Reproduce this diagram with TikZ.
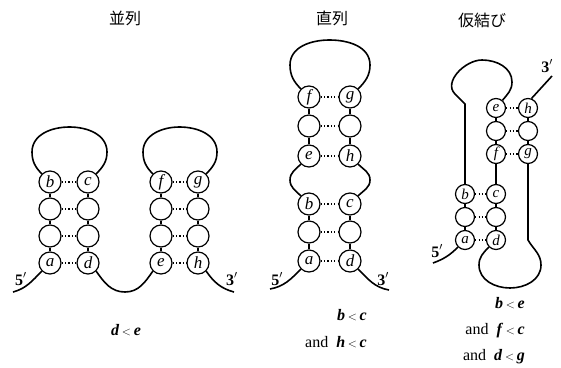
\documentclass[tikz,border=0pt]{standalone}
\usepackage{fontspec}
\setmainfont{Liberation Serif}
\newfontfamily\cjk{Noto Sans CJK JP}
\newcommand\lessrel{\,{\fontsize{13}{13}\selectfont$<$}\,}
\newcommand\rl[1]{\textbf{\textit{#1}}}
\begin{document}
\begin{tikzpicture}[x=1pt,y=1pt,
  base/.style={circle,draw,line width=1.2pt,inner sep=0pt,minimum size=22pt,
    font=\fontsize{17}{17}\selectfont\itshape},
  small/.style={base,minimum size=19pt,font=\fontsize{15}{15}\selectfont\itshape},
  strand/.style={line width=1.6pt},
  link/.style={line width=1.2pt},
  pair/.style={line width=1.2pt,dash pattern=on 1.2pt off 2.2pt},
  endlbl/.style={font=\fontsize{16}{16}\selectfont\bfseries,inner sep=0pt},
  title/.style={font=\fontsize{16}{16}\selectfont\cjk,inner sep=0pt},
  rel/.style={font=\fontsize{16}{16}\selectfont,inner sep=0pt,anchor=base east}]
\useasboundingbox (0,0) rectangle (561,-367);

% ---------- titles ----------
\node[title] (t1) at (125,-18) {並列};
\node[title] (t2) at (332,-18) {直列};
\node[title] (t3) at (482,-20) {仮結び};

% ---------- parallel: two separate hairpins ----------
\node[base] (pb) at (50,-182) {b};  \node[base] (pc) at (88,-182) {c};
\node[base] (p2l) at (50,-209) {};  \node[base] (p2r) at (88,-209) {};
\node[base] (p3l) at (50,-236) {};  \node[base] (p3r) at (88,-236) {};
\node[base] (pa) at (50,-263) {a};  \node[base] (pd) at (88,-263) {d};

\node[base] (pf) at (161,-182) {f}; \node[base] (pg) at (198,-182) {g};
\node[base] (q2l) at (161,-209) {}; \node[base] (q2r) at (198,-209) {};
\node[base] (q3l) at (161,-236) {}; \node[base] (q3r) at (198,-236) {};
\node[base] (pe) at (161,-263) {e}; \node[base] (ph) at (198,-263) {h};

\foreach \u/\v in {pb/p2l,p2l/p3l,p3l/pa,pc/p2r,p2r/p3r,p3r/pd,
                   pf/q2l,q2l/q3l,q3l/pe,pg/q2r,q2r/q3r,q3r/ph}
  \draw[link] (\u.south) -- (\v.north);
\foreach \u/\v in {pb/pc,p2l/p2r,p3l/p3r,pa/pd,pf/pg,q2l/q2r,q3l/q3r,pe/ph}
  \draw[pair] (\u.east) -- (\v.west);

\draw[strand] (pb.135) to[out=135,in=-90] (32,-152) to[out=90,in=180] (69.5,-127)
  to[out=0,in=90] (107,-152) to[out=-90,in=45] (pc.45);
\draw[strand] (pf.135) to[out=135,in=-90] (143,-152) to[out=90,in=180] (179.5,-127)
  to[out=0,in=90] (217,-152) to[out=-90,in=45] (pg.45);
\coordinate (p5) at (13,-292);
\coordinate (p3) at (234,-292);
\coordinate (pbot) at (125,-292);
\draw[strand] (pa.225) to[out=225,in=15] (p5);
\draw[strand] (pd.315) to[out=-55,in=180] (pbot) to[out=0,in=235] (pe.225);
\draw[strand] (ph.315) to[out=-55,in=165] (p3);
\node[endlbl] (p5l) at (21,-279) {5$'$};
\node[endlbl] (p3l2) at (232,-279) {3$'$};
\node[font=\fontsize{16}{16}\selectfont,inner sep=0pt,anchor=base] (pr) at (126,-335)
  {\rl{d}\lessrel\rl{e}};

% ---------- serial: two stacked hairpins ----------
\node[base] (sf) at (309,-97) {f};  \node[base] (sg) at (350,-97) {g};
\node[base] (s2l) at (309,-126) {}; \node[base] (s2r) at (350,-126) {};
\node[base] (se) at (309,-156) {e}; \node[base] (sh) at (350,-156) {h};
\node[base] (sb) at (309,-204) {b}; \node[base] (sc) at (350,-204) {c};
\node[base] (s5l) at (309,-232) {}; \node[base] (s5r) at (350,-232) {};
\node[base] (sa) at (309,-261) {a}; \node[base] (sd) at (350,-261) {d};

\foreach \u/\v in {sf/s2l,s2l/se,sg/s2r,s2r/sh,sb/s5l,s5l/sa,sc/s5r,s5r/sd}
  \draw[link] (\u.south) -- (\v.north);
\foreach \u/\v in {sf/sg,s2l/s2r,se/sh,sb/sc,s5l/s5r,sa/sd}
  \draw[pair] (\u.east) -- (\v.west);

\draw[strand] (sf.135) to[out=135,in=-90] (290,-65) to[out=90,in=180] (329.5,-40)
  to[out=0,in=90] (370,-65) to[out=-90,in=45] (sg.45);
\draw[strand] (se.225) to[out=225,in=90] (290,-180) to[out=-90,in=135] (sb.135);
\draw[strand] (sh.315) to[out=-45,in=90] (370,-180) to[out=-90,in=45] (sc.45);
\coordinate (s5) at (270,-289);
\coordinate (s3) at (389,-290);
\draw[strand] (sa.225) to[out=225,in=10] (s5);
\draw[strand] (sd.315) to[out=-45,in=170] (s3);
\node[endlbl] (s5t) at (277,-279) {5$'$};
\node[endlbl] (s3t) at (383,-279) {3$'$};
\node[rel] (sr1) at (367,-320) {\rl{b}\lessrel\rl{c}};
\node[rel] (sr2) at (367,-347) {and\ \ \rl{h}\lessrel\rl{c}};

% ---------- pseudoknot ----------
\node[small] (ke) at (496,-108) {e}; \node[small] (kh) at (528,-108) {h};
\node[small] (k2l) at (496,-131) {}; \node[small] (k2r) at (528,-131) {};
\node[small] (kf) at (496,-154) {f}; \node[small] (kg) at (528,-154) {g};
\node[small] (kb) at (465,-194) {b}; \node[small] (kc) at (496,-194) {c};
\node[small] (k5l) at (465,-217) {}; \node[small] (k5r) at (496,-217) {};
\node[small] (ka) at (465,-240) {a}; \node[small] (kd) at (496,-240) {d};

\foreach \u/\v in {ke/k2l,k2l/kf,kh/k2r,k2r/kg,kb/k5l,k5l/ka,kc/k5r,k5r/kd,kf/kc}
  \draw[link] (\u.south) -- (\v.north);
\foreach \u/\v in {ke/kh,k2l/k2r,kf/kg,kb/kc,k5l/k5r,ka/kd}
  \draw[pair] (\u.east) -- (\v.west);

\draw[strand] (kb.north) -- (465,-104) -- (455,-94) to[out=135,in=180] (482,-60)
  to[out=0,in=90] (512,-82) to[out=-90,in=50] (ke.50);
\draw[strand] (kg.south) -- (528,-240) to[out=-60,in=90] (541,-265)
  to[out=-90,in=0] (510,-288) to[out=180,in=-90] (479,-265) to[out=90,in=225] (kd.225);
\coordinate (k3) at (552,-76);
\coordinate (k5) at (433,-263);
\draw[strand] (kh.70) -- (k3);
\draw[strand] (ka.225) to[out=225,in=20] (k5);
\node[endlbl] (k3t) at (547,-66) {3$'$};
\node[endlbl] (k5t) at (437,-251) {5$'$};
\node[rel] (kr1) at (525,-308) {\rl{b}\lessrel\rl{e}};
\node[rel] (kr2) at (525,-334) {and\ \ \rl{f}\lessrel\rl{c}};
\node[rel] (kr3) at (525,-360) {and\ \ \rl{d}\lessrel\rl{g}};
\end{tikzpicture}
\end{document}
